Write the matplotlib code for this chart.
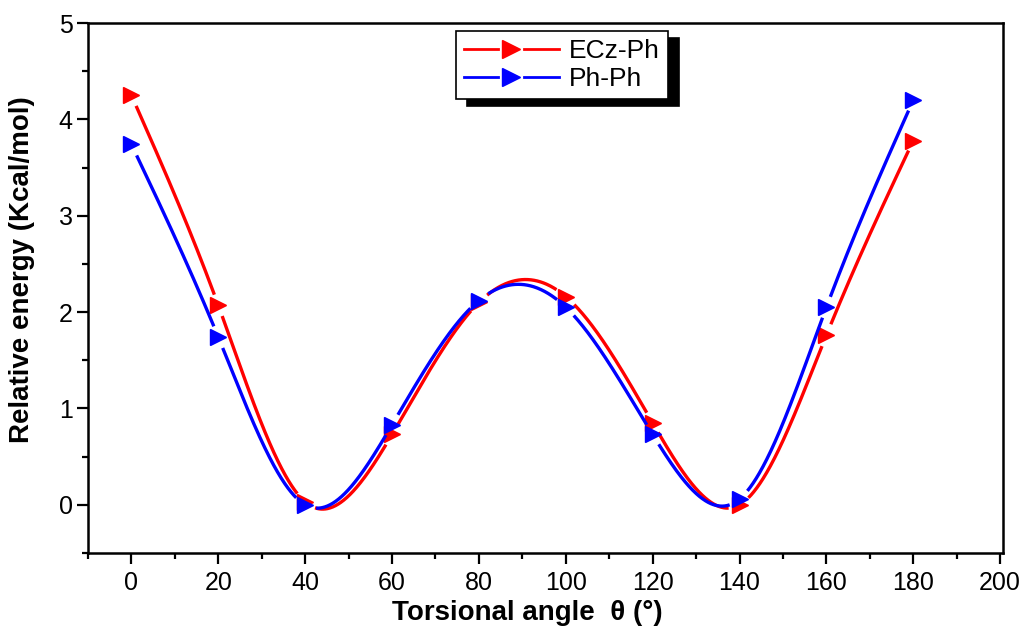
import numpy as np
import matplotlib
matplotlib.use('Agg')
import matplotlib.pyplot as plt
from matplotlib.ticker import MultipleLocator
from matplotlib.lines import Line2D
from matplotlib.legend_handler import HandlerBase

plt.rcParams['font.family'] = ['Liberation Sans', 'DejaVu Sans']

# torsional angle (deg) and relative energy (Kcal/mol)
angle = [0, 20, 40, 60, 80, 100, 120, 140, 160, 180]
e_eczph = [4.25, 2.07, 0.03, 0.73, 2.10, 2.16, 0.85, 0.00, 1.76, 3.78]
e_phph = [3.74, 1.74, 0.00, 0.83, 2.12, 2.05, 0.73, 0.06, 2.05, 4.20]
series_names = ['ECz-Ph', 'Ph-Ph']
series_colors = ['red', 'blue']


def natural_spline(x, y, xs):
    # plain natural cubic spline, the "spline" connection style of the original
    x = np.asarray(x, float); y = np.asarray(y, float)
    n = len(x)
    h = np.diff(x)
    A = np.zeros((n, n)); b = np.zeros(n)
    A[0, 0] = A[-1, -1] = 1
    for i in range(1, n - 1):
        A[i, i - 1] = h[i - 1]
        A[i, i] = 2 * (h[i - 1] + h[i])
        A[i, i + 1] = h[i]
        b[i] = 6 * ((y[i + 1] - y[i]) / h[i] - (y[i] - y[i - 1]) / h[i - 1])
    M = np.linalg.solve(A, b)
    k = np.clip(np.searchsorted(x, xs) - 1, 0, n - 2)
    t = xs - x[k]; hk = h[k]
    return (M[k] * (x[k + 1] - xs) ** 3 / (6 * hk) + M[k + 1] * t ** 3 / (6 * hk)
            + (y[k] / hk - M[k] * hk / 6) * (x[k + 1] - xs)
            + (y[k + 1] / hk - M[k + 1] * hk / 6) * t)


fig = plt.figure(figsize=(10.29, 6.32), dpi=100)
ax = fig.add_axes([0.0855, 0.125, 0.889, 0.8386])
ax.set_xlim(-10, 200.6)
ax.set_ylim(-0.5, 5)
fig.canvas.draw()

xs = np.linspace(0, 180, 1500)
for ys, name, col in zip([e_eczph, e_phph], series_names, series_colors):
    curve = natural_spline(angle, ys, xs)
    # break the line near each marker, as the original does
    pts = ax.transData.transform(np.column_stack([xs, curve]))
    mk = ax.transData.transform(np.column_stack([angle, ys]))
    d = np.min(np.hypot(pts[:, None, 0] - mk[None, :, 0],
                        pts[:, None, 1] - mk[None, :, 1]), axis=1)
    curve_gap = np.where(d < 11, np.nan, curve)
    ax.plot(xs, curve_gap, color=col, lw=2.4, solid_capstyle='butt')
    ax.plot(angle, ys, linestyle='none', marker='>', markersize=12, color=col)


# legend entries: line broken around the marker
class GapHandler(HandlerBase):
    def create_artists(self, legend, orig, xd, yd, width, height, fontsize, trans):
        col = orig.get_color()
        y = height / 2 - yd
        g = width * 0.14
        l1 = Line2D([-xd, -xd + width / 2 - g], [y, y], color=col, lw=2.0)
        l2 = Line2D([-xd + width / 2 + g, -xd + width], [y, y], color=col, lw=2.0)
        m = Line2D([-xd + width / 2], [y], color=col, marker='>', markersize=13,
                   linestyle='none')
        for a in (l1, l2, m):
            a.set_transform(trans)
        return [l1, l2, m]


proxies = [Line2D([], [], color=c) for c in series_colors]

ax.xaxis.set_major_locator(MultipleLocator(20))
ax.xaxis.set_minor_locator(MultipleLocator(10))
ax.yaxis.set_major_locator(MultipleLocator(1))
ax.yaxis.set_minor_locator(MultipleLocator(0.5))
ax.tick_params(which='both', direction='out', width=1.6, top=False, right=False,
               labelsize=18)
ax.tick_params(which='major', length=8, pad=3)
ax.tick_params(which='minor', length=4.5)
ax.tick_params(axis='x', which='major', pad=5)
for s in ax.spines.values():
    s.set_linewidth(1.8)

ax.set_xlabel('Torsional angle  \u03b8 (\u00b0)', fontsize=20, fontweight='bold')
ax.set_ylabel('Relative energy (Kcal/mol)', fontsize=20, fontweight='bold')
ax.xaxis.set_label_coords(0.48, -0.088)
ax.yaxis.set_label_coords(-0.058, 0.534)

leg = ax.legend(proxies, series_names, handler_map={Line2D: GapHandler()},
                loc='upper left', bbox_to_anchor=(0.402, 0.985), fontsize=19,
                frameon=True, fancybox=False, handlelength=3.6, handletextpad=0.4,
                borderpad=0.3, labelspacing=0.15, borderaxespad=0,
                shadow={'ox': 8, 'oy': -5, 'color': 'black', 'alpha': 1})
leg.get_frame().set_edgecolor('black')
leg.get_frame().set_linewidth(1.2)

fig.savefig('out.png', dpi=100)
